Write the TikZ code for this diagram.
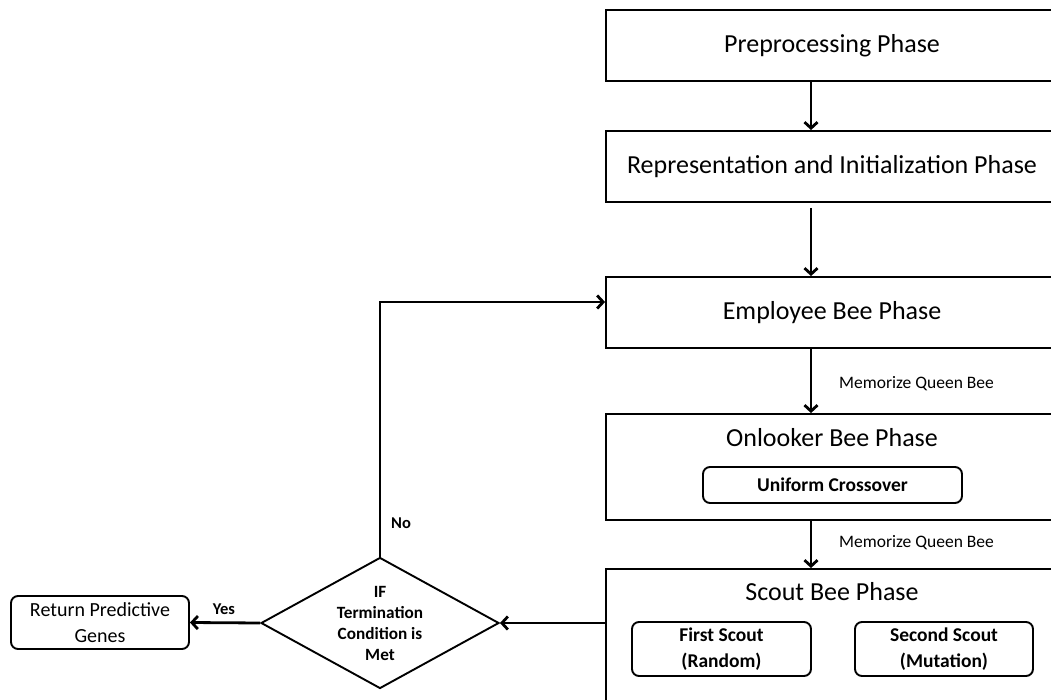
\documentclass[tikz,border=0pt]{standalone}
\usepackage{fontspec}
\setmainfont{Carlito}
\usetikzlibrary{shapes.geometric,arrows.meta}
\begin{document}
\begin{tikzpicture}[x=1pt,y=-1pt,
  phase/.style={draw, line width=1.9pt, minimum width=452pt, inner sep=0pt,
    font=\fontsize{26}{31}\selectfont},
  heading/.style={inner sep=0pt, font=\fontsize{26}{31}\selectfont},
  subbox/.style={draw, rounded corners=7pt, line width=1.9pt, inner sep=0pt,
    align=center, font=\bfseries\fontsize{19.5}{26}\selectfont},
  flow/.style={line width=2.8pt, -{Straight Barb[length=6pt,width=13pt]}},
  note/.style={inner sep=0pt, anchor=west, font=\fontsize{17.5}{21}\selectfont},
  tag/.style={inner sep=0pt, font=\bfseries\fontsize{16.5}{20}\selectfont}]

\useasboundingbox (0,0) rectangle (1051,700);
\clip (0,0) rectangle (1051,700);

% main phases
\node[phase, minimum height=71pt] (pre) at (832,45.5) {Preprocessing Phase};
\node[phase, minimum height=71pt] (rep) at (832,166.5) {Representation and Initialization Phase};
\node[phase, minimum height=71pt] (emp) at (832,312.5) {Employee Bee Phase};
\node[phase, minimum height=106pt] (onl) at (832,467) {};
\node[heading] (onlt) at (832,438) {Onlooker Bee Phase};
\node[subbox, minimum width=259pt, minimum height=36pt] (cross) at (832.5,485) {Uniform Crossover};
\node[phase, minimum height=161pt] (sct) at (832,649.5) {};
\node[heading] (sctt) at (832,592) {Scout Bee Phase};
\node[subbox, minimum width=179pt, minimum height=54pt] (first) at (721.5,649) {First Scout\\(Random)};
\node[subbox, minimum width=178pt, minimum height=54pt] (second) at (944,649) {Second Scout\\(Mutation)};

% decision and result
\node[draw, diamond, line width=1.9pt, shape aspect=1.8, inner sep=0pt,
  minimum width=238pt, minimum height=131pt, align=center,
  font=\bfseries\fontsize{17.2}{21}\selectfont] (dec) at (380,623)
  {IF\\Termination\\Condition is\\Met};
\node[subbox, font=\fontsize{20}{26}\selectfont, minimum width=178pt, minimum height=53pt]
  (ret) at (100,622.5) {Return Predictive\\Genes};

% vertical flow between phases
\coordinate (col) at (811,0);
\draw[flow] (pre.south -| col) -- (rep.north -| col);
\draw[flow] (rep.south -| col) ++(0,5) -- (emp.north -| col);
\draw[flow] (emp.south -| col) -- (onl.north -| col);
\draw[flow] (onl.south -| col) -- (sct.north -| col);
\node[note] (m1) at (839,384) {Memorize Queen Bee};
\node[note] (m2) at (839,543) {Memorize Queen Bee};

% termination check and loop back
\draw[flow] (sct.west |- dec.east) -- (dec.east);
\draw[flow] (dec.west) -- (ret.east);
\node[tag] (yes) at (224,609) {Yes};
\coordinate (loop) at (380,302);
\draw[flow] (dec.north) -- (loop) -- (loop -| emp.west);
\node[tag] (no) at (401,523) {No};
\end{tikzpicture}
\end{document}
